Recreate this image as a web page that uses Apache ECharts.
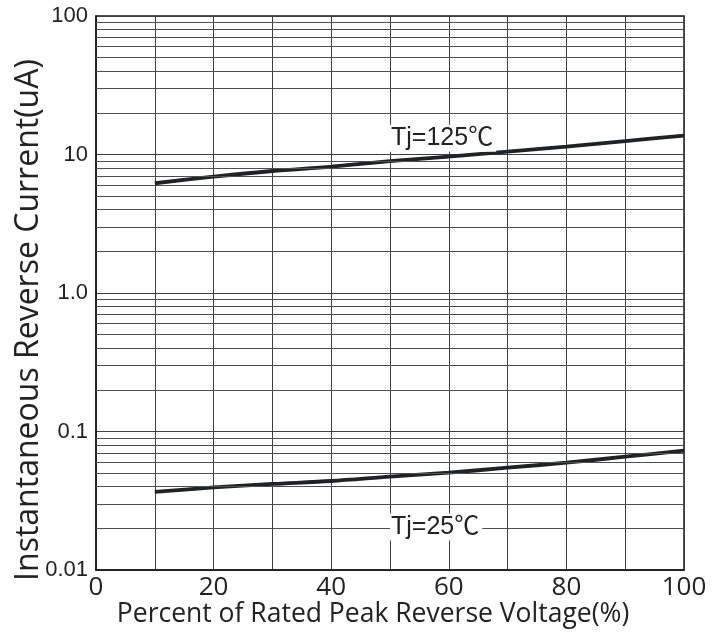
<!DOCTYPE html>
<html>
<head>
<meta charset="utf-8">
<script src="https://cdn.jsdelivr.net/npm/echarts@6/dist/echarts.min.js"></script>
<style>
html,body{margin:0;padding:0;background:#fff;}
#chart{width:724px;height:635px;}
</style>
</head>
<body>
<div id="chart"></div>
<script>
// Data
const voltagePct = [10, 20, 30, 40, 50, 60, 70, 80, 90, 100];
const current125 = [6.2, 6.92, 7.6, 8.17, 8.95, 9.64, 10.5, 11.4, 12.5, 13.7];
const current25 = [0.0366, 0.0395, 0.0418, 0.0439, 0.0472, 0.0504, 0.0548, 0.0595, 0.0658, 0.0727];
const yTickLabels = {'100': '100', '10': '10', '1': '1.0', '0.1': '0.1', '0.01': '0.01'};
const xTickLabels = [0, 20, 40, 60, 80, 100];
const decades = [0.01, 0.1, 1, 10];
const minorMultipliers = [2, 3, 4, 5, 6, 7, 8, 9];
const label125 = {text: 'Tj=125℃', x: 50, y: 13.1};
const label25 = {text: 'Tj=25℃', x: 50, y: 0.0204};

const minorLines = [];
decades.forEach(d => minorMultipliers.forEach(m => minorLines.push({yAxis: +(d * m).toPrecision(3)})));

const chart = echarts.init(document.getElementById('chart'));
const lineColor = '#1e2327';
const tagFont = "'Liberation Sans', Arial, 'Noto Sans CJK SC', sans-serif";
chart.setOption({
  animation: false,
  backgroundColor: '#fff',
  grid: {left: 96, right: 40, top: 16, bottom: 65, outerBoundsMode: 'none', containLabel: false,
    show: true, borderColor: '#1a1a1a', borderWidth: 1.5, backgroundColor: 'transparent'},
  xAxis: {
    type: 'value', min: 0, max: 100, interval: 10,
    name: 'Percent of Rated Peak Reverse Voltage(%)',
    nameLocation: 'middle', nameGap: 31, nameMoveOverlap: false,
    nameTextStyle: {fontFamily: 'Open Sans', fontSize: 26.5, color: '#222', padding: [0, 34, 0, 0]},
    axisLine: {show: true, lineStyle: {color: '#1a1a1a', width: 1.5}},
    axisTick: {show: false},
    axisLabel: {
      fontFamily: 'Open Sans', fontSize: 26, color: '#222', margin: 5,
      formatter: v => xTickLabels.indexOf(v) >= 0 ? String(v) : ''
    },
    splitLine: {show: true, lineStyle: {color: '#3a3f44', width: 1}}
  },
  yAxis: {
    type: 'log', logBase: 10, min: 0.01, max: 100,
    name: 'Instantaneous Reverse Current(uA)',
    nameLocation: 'middle', nameGap: 51, nameMoveOverlap: false,
    nameTextStyle: {fontFamily: 'Open Sans', fontSize: 32, color: '#222', padding: [0, 54, 0, 0]},
    axisLine: {show: true, lineStyle: {color: '#1a1a1a', width: 1.5}},
    axisTick: {show: false},
    axisLabel: {
      fontFamily: tagFont, fontSize: 22, color: '#222', margin: 8,
      formatter: v => yTickLabels[String(+v.toPrecision(3))] || ''
    },
    splitLine: {show: true, lineStyle: {color: '#3a3f44', width: 1}}
  },
  series: [
    {
      type: 'line', silent: true, data: [], symbol: 'none',
      markLine: {
        silent: true, symbol: 'none', label: {show: false},
        lineStyle: {color: '#4a4f54', width: 1, type: 'solid'},
        data: minorLines, animation: false
      }
    },
    {
      type: 'line', name: 'Tj=125', symbol: 'none', smooth: 0.3,
      data: voltagePct.map((x, i) => [x, current125[i]]),
      lineStyle: {color: lineColor, width: 3.8},
      markPoint: {
        symbol: 'circle', symbolSize: 0,
        label: {show: true, position: 'right', distance: 0, formatter: label125.text,
          fontFamily: tagFont, fontSize: 25, color: '#222', backgroundColor: '#fff', padding: [1, 3, 1, 1]},
        data: [{coord: [label125.x, label125.y]}]
      }
    },
    {
      type: 'line', name: 'Tj=25', symbol: 'none', smooth: 0.3,
      data: voltagePct.map((x, i) => [x, current25[i]]),
      lineStyle: {color: lineColor, width: 3.8},
      markPoint: {
        symbol: 'circle', symbolSize: 0,
        label: {show: true, position: 'right', distance: 0, formatter: label25.text,
          fontFamily: tagFont, fontSize: 25, color: '#222', backgroundColor: '#fff', padding: [1, 3, 1, 1]},
        data: [{coord: [label25.x, label25.y]}]
      }
    }
  ]
});
</script>
</body>
</html>
